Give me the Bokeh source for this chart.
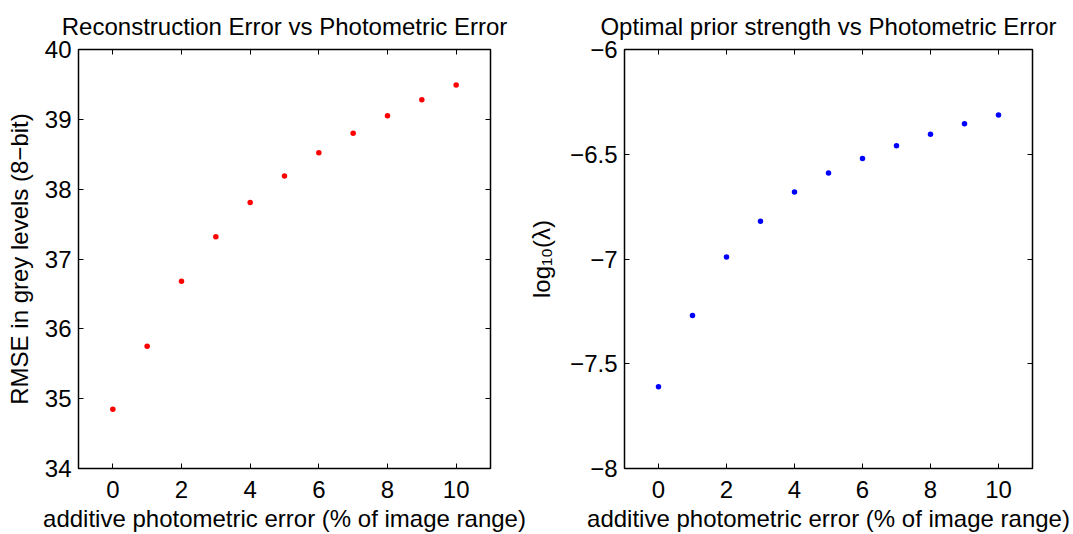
from bokeh.plotting import figure
from bokeh.layouts import row
from bokeh.models import LinearAxis, FixedTicker, CustomJSTickFormatter, Range1d
from bokeh.embed import file_html
from bokeh.resources import INLINE

x_err = [0, 1, 2, 3, 4, 5, 6, 7, 8, 9, 10]
rmse = [34.85, 35.75, 36.68, 37.32, 37.81, 38.19, 38.52, 38.80, 39.05, 39.28, 39.49]
log_lambda = [-7.61, -7.27, -6.99, -6.82, -6.68, -6.59, -6.52, -6.46, -6.405, -6.354, -6.313]
x_ticks = [0, 2, 4, 6, 8, 10]
left_yticks = [34, 35, 36, 37, 38, 39, 40]
right_yticks = [-8, -7.5, -7, -6.5, -6]
right_ylabels = {-8: "\u22128", -7.5: "\u22127.5", -7: "\u22127", -6.5: "\u22126.5", -6: "\u22126"}

FONT = "Liberation Sans"
TICK_FS = "24px"
LABEL_FS = "24px"


def style_axis(ax, ticks, show_labels=True, overrides=None):
    ax.ticker = FixedTicker(ticks=ticks)
    ax.major_tick_in = 5
    ax.major_tick_out = 0
    ax.minor_tick_line_color = None
    ax.axis_line_color = None
    ax.major_tick_line_color = "black"
    ax.major_label_text_font = FONT
    ax.major_label_text_font_size = TICK_FS
    ax.major_label_text_color = "black"
    ax.axis_label_text_font = FONT
    ax.axis_label_text_font_size = LABEL_FS
    ax.axis_label_text_font_style = "normal"
    ax.axis_label_text_color = "black"
    if overrides:
        ax.major_label_overrides = overrides
    if not show_labels:
        ax.formatter = CustomJSTickFormatter(code="return ''")
        ax.major_label_standoff = 0
        ax.major_label_text_font_size = "1px"


def make_plot(title, y, yrange, yticks, ylabel, color, width, mleft, mright, ylab_standoff, overrides=None):
    p = figure(width=width, height=534, output_backend="svg", toolbar_location=None,
               x_range=Range1d(-1, 11), y_range=Range1d(*yrange),
               min_border_left=mleft, min_border_right=mright,
               min_border_top=49, min_border_bottom=66,
               x_axis_label="additive photometric error (% of image range)",
               y_axis_label=ylabel)
    p.title.text = title
    p.title.align = "center"
    p.title.text_font = FONT
    p.title.text_font_size = "24px"
    p.title.text_font_style = "normal"
    p.title.text_color = "black"
    p.title.text_line_height = 1.0
    p.title.standoff = 19
    p.xgrid.grid_line_color = None
    p.ygrid.grid_line_color = None
    p.outline_line_color = "black"
    p.outline_line_width = 1.5
    p.background_fill_color = "white"
    p.border_fill_color = "white"
    style_axis(p.xaxis[0], x_ticks)
    style_axis(p.yaxis[0], yticks, overrides=overrides)
    p.xaxis[0].major_label_standoff = 12
    p.xaxis[0].axis_label_standoff = 4
    p.yaxis[0].major_label_standoff = 7
    p.yaxis[0].axis_label_standoff = ylab_standoff
    top = LinearAxis()
    style_axis(top, x_ticks, show_labels=False)
    p.add_layout(top, "above")
    right = LinearAxis()
    style_axis(right, yticks, show_labels=False)
    p.add_layout(right, "right")
    p.scatter(x_err, y, size=5.5, color=color, line_color=None)
    return p


p1 = make_plot("Reconstruction Error vs Photometric Error", rmse, (34, 40), left_yticks,
               "RMSE in grey levels (8\u2212bit)", "#ff0000", 525, 78, 35, 9)
p2 = make_plot("Optimal prior strength vs Photometric Error", log_lambda, (-8, -6), right_yticks,
               "log\u2081\u2080(\u03bb)", "#0000ff", 548, 95, 41, 12, overrides=right_ylabels)

layout = row(p1, p2)
open("out.html", "w").write(file_html(layout, INLINE))
